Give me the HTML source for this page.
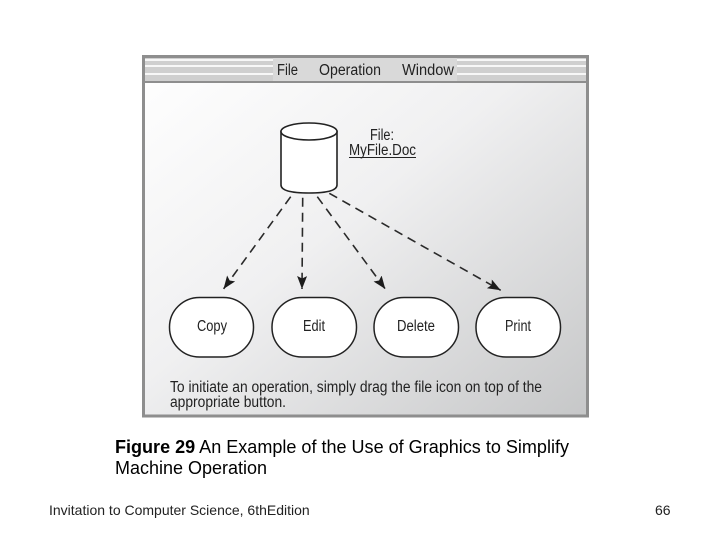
<!DOCTYPE html>
<html>
<head>
<meta charset="utf-8">
<style>
html,body{margin:0;padding:0;background:#fff}
svg{display:block}
text{font-family:"Liberation Sans",sans-serif}
</style>
</head>
<body>
<svg width="720" height="540" viewBox="0 0 720 540" xmlns="http://www.w3.org/2000/svg">
<defs>
<linearGradient id="bg" x1="0" y1="0" x2="1" y2="1">
<stop offset="0" stop-color="#ffffff"/>
<stop offset="0.45" stop-color="#f0f0f1"/>
<stop offset="1" stop-color="#c6c7c8"/>
</linearGradient>
<marker id="a" markerWidth="14" markerHeight="12" refX="13" refY="5" orient="auto" markerUnits="userSpaceOnUse">
<path d="M0 0L13 5L0 10L2.5 5Z" fill="#1c1c1c"/>
</marker>
</defs>
<rect x="143.5" y="56.5" width="444" height="359.5" fill="url(#bg)" stroke="#8e8e8e" stroke-width="3"/>
<rect x="145" y="58" width="441" height="23" fill="#d9d9d9"/>
<rect x="145" y="58" width="128" height="23" fill="#cfcfcf"/>
<rect x="457" y="58" width="129" height="23" fill="#cfcfcf"/>
<g fill="#f7f7f7">
<rect x="145" y="59" width="128" height="2"/><rect x="145" y="65" width="128" height="2"/><rect x="145" y="73" width="128" height="2"/>
<rect x="457" y="59" width="129" height="2"/><rect x="457" y="65" width="129" height="2"/><rect x="457" y="73" width="129" height="2"/>
</g>
<rect x="145" y="81" width="441" height="2" fill="#8e8e8e"/>
<g font-size="15.5" fill="#222">
<text x="277" y="75" textLength="21" lengthAdjust="spacingAndGlyphs">File</text>
<text x="319" y="75" textLength="62" lengthAdjust="spacingAndGlyphs">Operation</text>
<text x="402" y="75" textLength="52" lengthAdjust="spacingAndGlyphs">Window</text>
<text x="370" y="140" textLength="24" lengthAdjust="spacingAndGlyphs">File:</text>
<text x="349" y="155" textLength="67" lengthAdjust="spacingAndGlyphs">MyFile.Doc</text>
<text x="170" y="392" textLength="372" lengthAdjust="spacingAndGlyphs">To initiate an operation, simply drag the file icon on top of the</text>
<text x="170" y="407" textLength="116" lengthAdjust="spacingAndGlyphs">appropriate button.</text>
</g>
<rect x="349" y="157" width="67" height="1" fill="#222"/>
<path d="M281 131.5V185Q281 193 309 193Q337 193 337 185V131.5Z" fill="#fff" stroke="#222" stroke-width="1.6"/>
<ellipse cx="309" cy="131.5" rx="28" ry="8.5" fill="#fff" stroke="#222" stroke-width="1.6"/>
<g fill="none" stroke="#2a2a2a" stroke-width="1.6" stroke-dasharray="9 6">
<path d="M290.7 196.7L223.5 289" marker-end="url(#a)"/>
<path d="M302.7 197.7L302 289" marker-end="url(#a)"/>
<path d="M317.3 196.7L385.3 289" marker-end="url(#a)"/>
<path d="M329.3 193.3L500.7 290.3" marker-end="url(#a)"/>
</g>
<g fill="#fff" stroke="#222" stroke-width="1.5">
<rect x="169.5" y="297.5" width="84" height="59.5" rx="30" ry="29.5"/>
<rect x="272" y="297.5" width="84.5" height="59.5" rx="30" ry="29.5"/>
<rect x="374" y="297.5" width="84.5" height="59.5" rx="30" ry="29.5"/>
<rect x="476" y="297.5" width="84.5" height="59.5" rx="30" ry="29.5"/>
</g>
<g font-size="15.5" fill="#222">
<text x="197" y="331" textLength="30" lengthAdjust="spacingAndGlyphs">Copy</text>
<text x="303" y="331" textLength="22" lengthAdjust="spacingAndGlyphs">Edit</text>
<text x="397" y="331" textLength="38" lengthAdjust="spacingAndGlyphs">Delete</text>
<text x="505" y="331" textLength="26" lengthAdjust="spacingAndGlyphs">Print</text>
</g>
<text x="115" y="453" font-size="18" fill="#000" textLength="454" lengthAdjust="spacingAndGlyphs"><tspan font-weight="bold">Figure 29</tspan> An Example of the Use of Graphics to Simplify</text>
<text x="115" y="474" font-size="18" fill="#000" textLength="152" lengthAdjust="spacingAndGlyphs">Machine Operation</text>
<text x="49" y="515" font-size="14" fill="#222">Invitation to Computer Science, 6th<tspan>Edition</tspan></text>
<text x="655" y="515" font-size="14" fill="#222">66</text>
</svg>
</body>
</html>
